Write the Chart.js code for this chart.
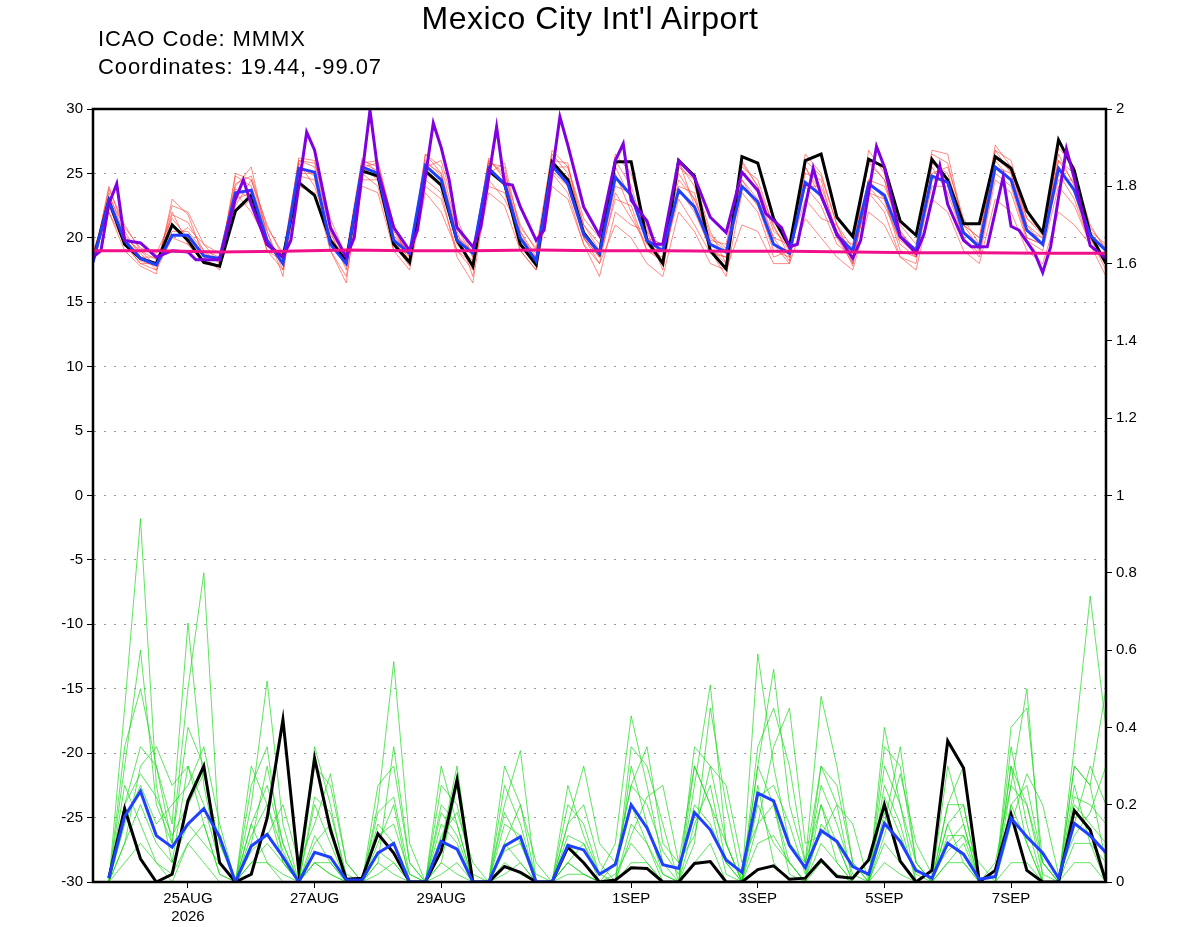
<!DOCTYPE html>
<html><head><meta charset="utf-8">
<script src="https://cdn.jsdelivr.net/npm/chart.js@4/dist/chart.umd.min.js"></script>
<style>
body{margin:0;background:#fff;width:1200px;height:927px;overflow:hidden;position:relative;font-family:"Liberation Sans",Arial,sans-serif}
#t{position:absolute;left:0;width:1180px;top:0;text-align:center;font-size:32px;letter-spacing:0.5px}
.s{position:absolute;left:98px;font-size:22px;letter-spacing:0.9px}
canvas{position:absolute;left:0;top:0}
</style></head><body>
<canvas id="c" width="1200" height="927"></canvas>
<div id="t">Mexico City Int'l Airport</div>
<div class="s" style="top:26px">ICAO Code: MMMX</div>
<div class="s" style="top:54px">Coordinates: 19.44, -99.07</div>
<script>
const tickIdx=[6,14,22,34,42,50,58];
const tickLabels=[['25AUG','2026'],'27AUG','29AUG','1SEP','3SEP','5SEP','7SEP'];
const tBlack=[18.2,22.9,19.5,18.4,18.0,21.0,19.8,18.1,17.8,22.1,23.3,19.5,18.5,24.3,23.3,19.8,18.2,25.2,24.8,19.5,18.1,25.2,24.1,19.8,17.8,25.2,24.2,19.5,17.9,25.9,24.5,20.4,18.8,25.9,25.9,19.8,18.0,26.0,24.8,19.0,17.6,26.3,25.8,21.5,19.3,26.0,26.5,21.6,20.1,26.1,25.5,21.3,20.2,26.1,24.5,21.1,21.1,26.3,25.4,22.1,20.4,27.6,25.2,20.3,18.0];
const tBlue=[18.1,22.9,19.8,18.4,17.9,20.2,20.2,18.6,18.4,23.5,23.7,19.8,18.0,25.4,25.1,19.5,18.0,25.5,25.0,19.8,18.8,25.6,24.5,19.8,18.8,25.4,24.2,20.0,18.2,25.6,24.2,20.3,18.8,24.7,23.3,19.8,19.0,23.7,22.4,19.5,18.9,24.0,22.8,19.5,18.8,24.3,23.3,20.2,19.0,24.2,23.3,20.1,19.0,24.8,24.3,20.4,19.3,25.5,24.5,20.6,19.5,25.4,23.7,20.2,19.0];
const purpleX=[0,0.5,1,1.5,2,3,4,5,6,6.5,8,9,9.5,10,11,12,12.5,13.5,14,15,16,16.5,17.5,18,19,20,20.5,21.5,22,22.5,23,24,24.5,25.5,26,26.5,27,28,28.5,29.5,30,31,32,33,33.5,34,35,35.5,36,37,38,39,40,41,42,42.5,43.5,44,44.5,45.5,46,47,48,48.5,49.5,50,51,52,52.5,53.5,54,55,55.5,56.5,57.5,58,58.5,59.5,60,60.5,61.5,62,63,64];
const purpleY=[18.5,19.0,22.6,24.2,19.8,19.6,18.5,19.0,18.9,18.3,18.3,23.0,24.5,22.6,19.5,18.5,19.8,28.2,26.8,20.8,18.5,20.0,29.9,25.2,20.8,19.0,20.6,28.9,27.0,24.5,20.8,19.3,20.8,28.6,24.2,24.1,22.4,19.8,20.6,29.4,27.2,22.4,20.2,26.0,27.3,22.9,21.3,19.5,19.5,26.0,24.7,21.6,20.4,25.1,23.7,21.9,20.8,19.3,19.5,25.4,23.3,20.3,18.4,19.8,27.1,25.5,20.1,18.8,20.3,25.6,22.6,19.8,19.3,19.3,24.7,20.9,20.6,18.8,17.3,19.3,26.9,24.6,19.4,18.4];
const climX=[0,4,8,12,16,20,24,28,32,36,40,44,48,52,56,60,64];
const climY=[19.0,19.0,18.9,18.95,19.05,19.0,19.0,19.05,19.0,19.0,18.95,18.95,18.9,18.85,18.85,18.8,18.8];
const tMembers=[
[18.5,23.5,20.2,18.8,17.5,21.8,21.2,19.0,18.0,24.8,24.0,20.5,17.0,26.0,25.5,20.5,17.5,25.8,26.0,21.0,18.0,26.5,25.0,20.5,17.0,25.8,25.5,19.5,18.5,26.8,25.5,21.5,20.0,25.0,22.0,19.0,18.2,26.0,22.5,19.0,18.5,25.0,23.5,20.0,18.2,25.5,23.0,20.5,17.8,24.5,23.0,19.5,18.5,26.5,25.8,21.0,19.2,26.8,26.0,21.5,20.5,26.5,24.0,20.0,17.5],
[19.0,22.0,19.0,17.8,17.2,23.0,21.8,18.5,17.5,23.5,22.0,19.8,18.5,25.5,25.0,19.0,16.5,25.5,24.5,19.0,18.8,24.5,23.5,18.5,16.5,24.5,23.0,20.5,18.0,25.0,23.5,19.5,17.0,22.0,21.0,20.5,17.5,24.0,23.5,19.0,17.0,23.5,22.0,18.5,19.0,23.0,21.5,21.0,18.5,23.5,22.0,18.5,18.0,25.5,23.5,20.0,18.5,24.5,23.5,19.8,19.0,24.0,22.5,19.5,18.0],
[18.0,24.0,20.5,18.5,18.5,20.0,20.8,19.5,18.8,24.0,25.5,20.0,18.0,26.0,25.8,21.5,18.5,25.8,25.2,20.0,19.0,25.5,26.0,21.5,18.5,26.0,25.0,21.0,19.0,25.5,25.5,21.0,19.5,26.0,24.0,20.0,19.5,25.0,23.0,19.8,19.5,26.0,24.0,20.5,19.5,25.0,24.5,20.0,19.5,25.8,24.5,20.5,19.0,25.0,25.5,21.5,19.5,26.8,25.0,21.0,20.0,26.0,25.0,21.0,19.0],
[18.5,22.5,19.5,18.0,18.0,22.0,19.5,18.0,17.8,23.8,23.0,19.0,18.2,24.8,24.5,19.5,17.8,25.0,24.0,19.5,17.8,24.0,23.0,19.0,18.0,25.5,24.0,19.0,17.5,25.2,24.0,20.0,18.5,23.0,22.5,19.0,18.5,23.0,21.0,18.8,18.5,24.5,22.5,19.0,18.5,24.0,22.5,19.5,18.5,23.5,23.0,19.0,18.5,24.0,24.0,20.0,18.8,25.0,24.0,20.0,19.5,25.5,23.5,19.5,18.5],
[18.2,23.0,20.0,19.0,18.3,20.5,20.5,19.0,18.5,22.5,24.5,20.5,17.5,25.0,25.0,20.0,18.5,26.0,25.5,20.5,18.5,25.8,25.0,20.0,19.0,26.0,24.8,20.0,18.8,26.0,24.0,20.5,18.5,24.0,23.5,20.0,19.0,24.5,23.0,20.0,19.0,24.5,23.0,20.0,19.5,24.0,24.0,20.5,19.0,24.5,24.0,21.0,19.5,26.0,24.5,20.5,19.5,25.5,25.0,20.5,20.0,24.5,24.5,20.5,19.5],
[18.8,22.8,19.8,18.2,17.8,21.0,20.0,18.8,18.2,23.0,23.5,19.5,18.0,25.5,24.8,19.8,18.0,24.5,24.5,19.8,18.2,25.0,24.0,19.5,18.2,24.0,23.5,20.0,18.0,25.5,24.5,20.0,18.0,23.5,21.5,19.5,18.0,23.8,22.0,19.2,18.0,24.0,22.5,19.5,18.0,25.5,23.5,20.0,18.0,24.0,22.5,19.8,18.8,24.5,24.5,20.5,19.0,26.0,24.5,20.0,19.5,25.0,23.0,19.5,18.5],
[18.0,23.8,21.0,19.0,17.8,22.5,22.0,19.5,18.0,25.0,24.5,21.0,18.5,26.2,26.0,20.5,18.5,25.5,25.8,20.8,18.5,26.5,25.5,20.8,18.5,25.0,25.8,20.5,18.5,26.0,25.8,20.0,18.5,26.5,25.0,20.8,18.0,25.5,24.5,20.5,18.0,25.8,24.0,21.0,18.5,26.5,25.0,21.0,18.0,26.8,25.0,20.5,18.5,26.8,26.5,21.0,20.0,27.2,25.5,21.0,19.5,27.0,25.5,20.0,18.0],
[18.5,22.0,19.5,18.0,17.5,20.0,19.5,18.2,17.8,22.0,23.0,19.0,17.5,24.0,23.5,19.0,17.0,24.0,23.5,19.0,17.5,23.5,22.0,19.0,17.5,23.5,22.5,19.0,17.5,24.0,23.0,19.5,18.0,21.0,20.0,18.0,17.0,22.0,20.5,18.0,17.5,21.0,20.5,18.0,18.0,21.5,20.0,18.5,17.5,22.0,21.0,18.5,17.5,23.0,22.0,19.0,18.0,23.0,22.0,19.0,18.0,22.0,21.0,19.5,17.0],
[18.3,23.2,20.8,19.2,18.8,21.5,20.0,18.5,18.5,24.2,24.8,20.8,18.8,25.8,24.0,20.2,18.8,26.2,25.0,20.2,18.8,26.0,24.8,20.2,18.8,26.2,24.5,20.8,19.2,26.5,25.0,21.0,19.0,25.5,23.0,20.5,19.2,25.8,24.0,20.2,19.2,25.5,24.5,20.8,19.0,26.0,24.8,21.0,19.2,26.0,24.5,20.0,19.2,25.8,25.0,21.0,20.0,26.2,25.2,21.5,20.2,26.0,24.2,20.8,19.2]];
const pBlack=[null,0.01,0.19,0.06,0,0.02,0.21,0.30,0.05,0,0.02,0.165,0.42,0.03,0.32,0.135,0.007,0.01,0.125,0.075,0,0,0.08,0.265,0,0,0.04,0.025,0,0,0.09,0.05,0,0.005,0.037,0.035,0,0,0.048,0.053,0,0,0.032,0.042,0.007,0.01,0.057,0.014,0.01,0.057,0.2,0.054,0,0.03,0.365,0.295,0,0.03,0.175,0.03,0,0,0.185,0.135,0];
const pBlue=[null,0.01,0.17,0.235,0.12,0.09,0.15,0.19,0.117,0,0.093,0.123,0.065,0,0.077,0.064,0.005,0.005,0.075,0.1,0,0,0.105,0.085,0,0,0.093,0.117,0,0,0.095,0.083,0.02,0.045,0.2,0.14,0.045,0.035,0.18,0.135,0.057,0.025,0.23,0.21,0.095,0.037,0.133,0.105,0.04,0.02,0.152,0.105,0.03,0.01,0.1,0.072,0.007,0.014,0.165,0.117,0.075,0.01,0.152,0.12,0.076];
const pMembers=[
[null,0,0.45,0.94,0.25,0.05,0.3,0.2,0.05,0,0.1,0.3,0.1,0,0.12,0.05,0,0,0.1,0.2,0,0,0.15,0.1,0,0,0.2,0.34,0,0,0.1,0.05,0,0.05,0.2,0.1,0,0,0.25,0.51,0.1,0,0.3,0.2,0.05,0,0.15,0.1,0,0,0.3,0.2,0,0,0.1,0.15,0,0,0.3,0.1,0,0,0.35,0.74,0.4],
[null,0,0.3,0.6,0.2,0.1,0.5,0.8,0.1,0,0.2,0.52,0.15,0,0.35,0.2,0,0,0.2,0.57,0.1,0,0.2,0.15,0,0,0.15,0.12,0,0,0.2,0.15,0.02,0.1,0.43,0.25,0.05,0,0.15,0.25,0.05,0,0.59,0.3,0.1,0.05,0.2,0.05,0,0,0.25,0.15,0,0,0.2,0.3,0,0.05,0.25,0.5,0,0,0.2,0.15,0.1],
[null,0,0.2,0.35,0.3,0.15,0.67,0.25,0.05,0,0.3,0.2,0.05,0,0.2,0.1,0,0,0.05,0.35,0.05,0,0.1,0.3,0,0,0.1,0.2,0.05,0,0.15,0.3,0.1,0.05,0.25,0.35,0.1,0.05,0.3,0.2,0.1,0,0.3,0.55,0.2,0.05,0.48,0.3,0.05,0,0.15,0.35,0.05,0,0.15,0.2,0,0,0.2,0.25,0.05,0,0.3,0.25,0.05],
[null,0,0.15,0.25,0.15,0.2,0.25,0.35,0.15,0,0.05,0.1,0.05,0,0.1,0.15,0,0,0.15,0.1,0,0,0.05,0.25,0,0,0.1,0.05,0,0,0.05,0.1,0,0,0.15,0.1,0.02,0,0.1,0.45,0.2,0,0.2,0.1,0.05,0,0.3,0.2,0,0,0.4,0.2,0.05,0,0.05,0.1,0,0,0.4,0.45,0.05,0,0.15,0.3,0.2],
[null,0,0.1,0.2,0.1,0.05,0.15,0.1,0.05,0,0.25,0.35,0.05,0,0.05,0.02,0,0,0.08,0.05,0,0,0.3,0.15,0,0,0.3,0.2,0,0,0.05,0.02,0,0.02,0.1,0.05,0,0,0.05,0.1,0,0,0.15,0.2,0.02,0,0.1,0.05,0,0,0.1,0.05,0,0,0.3,0.15,0,0,0.2,0.1,0,0,0.1,0.1,0],
[null,0,0.25,0.15,0.05,0,0.1,0.05,0,0,0.15,0.05,0.02,0,0.05,0.02,0,0,0.05,0.02,0,0,0.05,0.02,0,0,0.05,0.02,0,0,0.05,0.02,0,0,0.3,0.15,0.02,0,0.3,0.2,0.02,0,0.25,0.05,0,0,0.2,0.1,0,0,0.18,0.05,0,0,0.15,0.05,0,0,0.3,0.2,0.02,0,0.25,0.1,0.05],
[null,0,0.35,0.5,0.3,0.1,0.4,0.3,0.05,0,0.15,0.25,0.1,0,0.3,0.25,0.05,0,0.25,0.3,0.05,0,0.25,0.2,0.02,0,0.25,0.15,0,0,0.15,0.2,0.05,0,0.35,0.3,0.15,0,0.35,0.3,0.1,0,0.35,0.45,0.3,0.05,0.3,0.25,0.05,0,0.35,0.3,0.05,0,0.2,0.2,0,0,0.35,0.15,0,0,0.3,0.25,0.5],
[null,0,0.05,0.1,0.05,0.02,0.1,0.15,0.02,0,0.05,0.05,0,0,0.05,0.05,0,0,0.02,0.05,0,0,0.02,0.05,0,0,0.02,0.05,0,0,0.02,0.02,0,0,0.05,0.05,0,0,0.05,0.05,0,0,0.1,0.12,0.05,0,0.05,0.02,0,0,0.05,0.02,0,0,0.05,0.05,0,0,0.05,0.05,0,0,0.05,0.05,0],
[null,0,0.2,0.28,0.22,0.12,0.2,0.28,0.1,0,0.12,0.2,0.08,0,0.22,0.18,0.02,0,0.18,0.22,0.02,0,0.18,0.12,0,0,0.18,0.1,0,0,0.12,0.1,0.02,0.05,0.25,0.2,0.08,0.02,0.2,0.15,0.05,0,0.22,0.25,0.15,0.02,0.25,0.15,0.02,0,0.22,0.12,0.02,0,0.12,0.12,0,0,0.25,0.2,0.05,0,0.22,0.2,0.15],
[null,0,0.1,0.3,0.35,0.25,0.3,0.15,0.02,0,0.08,0.12,0.2,0.05,0.15,0.28,0.05,0,0.12,0.15,0.02,0,0.12,0.18,0.05,0,0.08,0.1,0.02,0,0.25,0.12,0.02,0,0.12,0.22,0.25,0.05,0.12,0.3,0.25,0.05,0.15,0.35,0.45,0.1,0.12,0.2,0.15,0,0.12,0.28,0.1,0.02,0.08,0.12,0.05,0,0.15,0.28,0.2,0.02,0.12,0.18,0.3]];

const pts=a=>a.map((v,i)=>({x:i,y:v}));
const xy=(xs,ys)=>xs.map((x,i)=>({x:x,y:ys[i]}));
const ds=[];
const L=(data,axis,color,w,order)=>({data,yAxisID:axis,borderColor:color,borderWidth:w,pointRadius:0,fill:false,tension:0,order,spanGaps:false});
tMembers.forEach(m=>ds.push(L(pts(m),'y','rgba(255,60,50,0.75)',0.8,20)));
pMembers.forEach(m=>ds.push(L(pts(m),'y2','rgba(20,215,20,0.85)',0.8,20)));
ds.push(L(pts(tBlack),'y','#000',3,5));
ds.push(L(pts(pBlack),'y2','#000',3,5));
ds.push(L(pts(tBlue),'y','#2040ff',3,4));
ds.push(L(pts(pBlue),'y2','#2040ff',3,4));
ds.push(L(xy(purpleX,purpleY),'y','#8000e0',3,3));
ds.push(L(xy(climX,climY),'y','#f0108a',3,2));

const frame={id:'frame',afterDraw(c){const a=c.chartArea,g=c.ctx;g.save();g.strokeStyle='#000';g.lineWidth=2.5;g.strokeRect(a.left,a.top,a.right-a.left,a.bottom-a.top);g.restore();}};
const font={family:'"Liberation Sans",Arial,sans-serif',size:15};
new Chart(document.getElementById('c'),{type:'line',data:{datasets:ds},
options:{responsive:false,animation:false,events:[],layout:{padding:{top:109,left:0,right:0,bottom:0}},
plugins:{legend:{display:false},tooltip:{enabled:false}},
scales:{
x:{type:'linear',min:0,max:64,afterBuildTicks(s){s.ticks=tickIdx.map(v=>({value:v}));},
 ticks:{autoSkip:false,maxRotation:0,color:'#000',font,padding:2,callback:(v)=>tickLabels[tickIdx.indexOf(v)]},
 grid:{drawOnChartArea:false,tickLength:6,color:'#000'},border:{color:'#000',width:2},afterFit(s){s.height=45;}},
y:{position:'left',min:-30,max:30,ticks:{stepSize:5,color:'#000',font,padding:4},
 grid:{color:'#999',lineWidth:1,tickLength:6,tickColor:'#000'},border:{color:'#000',width:2,dash:[2,8]},afterFit(s){s.width=93;}},
y2:{position:'right',min:0,max:2,ticks:{stepSize:0.2,color:'#000',font,padding:4,callback:v=>String(Math.round(v*10)/10)},
 grid:{drawOnChartArea:false,tickLength:6,color:'#000'},border:{color:'#000',width:2},afterFit(s){s.width=94;}}
}},plugins:[frame]});
</script></body></html>
